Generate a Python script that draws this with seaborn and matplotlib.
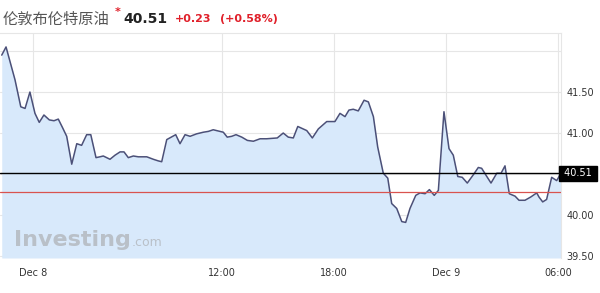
import matplotlib
matplotlib.use("Agg")
import matplotlib.pyplot as plt
import matplotlib.transforms as mtransforms
import seaborn as sns
import pandas as pd

# ---- data (hours since Dec 8 00:00, price) ----
hours = [0.20, 0.43, 0.91, 1.22, 1.45, 1.71, 1.98, 2.21, 2.46, 2.75, 3.00, 3.23, 3.47, 3.68,
         3.95, 4.22, 4.48, 4.75, 4.97, 5.25, 5.46, 5.64, 6.00, 6.27, 6.54, 6.75, 6.98, 7.25,
         7.52, 7.97, 8.32, 8.59, 8.77, 9.04, 9.52, 9.75, 10.02, 10.29, 10.64, 11.00, 11.27,
         11.53, 11.89, 12.07, 12.28, 12.52, 12.75, 13.06, 13.36, 13.68, 14.04, 14.39, 14.96,
         15.28, 15.55, 15.82, 16.06, 16.54, 16.84, 17.16, 17.61, 18.05, 18.32, 18.59, 18.80,
         19.03, 19.30, 19.61, 19.84, 20.11, 20.34, 20.64, 20.88, 21.09, 21.36, 21.63, 21.84,
         22.07, 22.38, 22.61, 22.88, 23.11, 23.37, 23.59, 23.89, 24.16, 24.39, 24.63, 24.87,
         25.14, 25.46, 25.73, 25.91, 26.13, 26.41, 26.72, 26.95, 27.16, 27.39, 27.70, 27.91,
         28.23, 28.54, 28.86, 28.98, 29.18, 29.39, 29.66, 29.93, 30.16]
prices = [41.95, 42.05, 41.65, 41.32, 41.30, 41.50, 41.24, 41.13, 41.22, 41.16, 41.15, 41.17,
          41.06, 40.96, 40.62, 40.87, 40.85, 40.98, 40.98, 40.70, 40.71, 40.72, 40.68, 40.73,
          40.77, 40.77, 40.70, 40.72, 40.71, 40.71, 40.68, 40.66, 40.65, 40.92, 40.98, 40.87,
          40.98, 40.96, 40.99, 41.01, 41.02, 41.04, 41.02, 41.01, 40.95, 40.96, 40.98, 40.95,
          40.91, 40.90, 40.93, 40.93, 40.94, 41.00, 40.95, 40.94, 41.08, 41.03, 40.94, 41.05,
          41.14, 41.14, 41.24, 41.20, 41.28, 41.29, 41.27, 41.40, 41.38, 41.20, 40.83, 40.51,
          40.45, 40.14, 40.08, 39.92, 39.91, 40.08, 40.24, 40.27, 40.26, 40.31, 40.24, 40.30,
          41.26, 40.81, 40.73, 40.47, 40.46, 40.39, 40.49, 40.58, 40.57, 40.49, 40.39, 40.51,
          40.51, 40.60, 40.26, 40.23, 40.18, 40.18, 40.22, 40.27, 40.22, 40.16, 40.19, 40.46,
          40.42, 40.51]
last_price = 40.51
prev_close = 40.28
x_tick_pos = [1.88, 12, 18, 24, 30]
x_tick_labels = ["Dec 8", "12:00", "18:00", "Dec 9", "06:00"]
y_tick_pos = [39.5, 40.0, 40.5, 41.0, 41.5, 42.0]
y_tick_labels = ["39.50", "40.00", "", "41.00", "41.50", ""]
title_name = "伦敦布伦特原油"
title_price = "40.51"
title_change = "+0.23"
title_pct = "(+0.58%)"

df = pd.DataFrame({"h": hours, "p": prices})

sns.set_style("white")
plt.rcParams["font.family"] = ["DejaVu Sans"]

W, H = 600, 293
fig = plt.figure(figsize=(W / 100, H / 100), dpi=100)
ax = fig.add_axes([0, 1 - 258 / H, 561 / W, (258 - 33) / H])

ymin, ymax = 39.476, 42.22
ax.set_xlim(0.107, 30.16)
ax.set_ylim(ymin, ymax)

ax.fill_between(df["h"], df["p"], ymin, color="#d8e9fb", zorder=1, linewidth=0)
sns.lineplot(data=df, x="h", y="p", ax=ax, color="#4b5078", linewidth=1.1, zorder=4)

ax.axhline(last_price, color="black", linewidth=1.0, zorder=5)
ax.axhline(prev_close, color="#d9534f", linewidth=0.9, zorder=5)

ax.set_xticks(x_tick_pos)
ax.set_xticklabels(x_tick_labels)
ax.set_yticks(y_tick_pos)
ax.set_yticklabels(y_tick_labels)
ax.yaxis.tick_right()
ax.tick_params(axis="both", length=0, labelsize=7, colors="#333333")
ax.tick_params(axis="y", pad=4)
ax.tick_params(axis="x", pad=7)
ax.grid(True, color="#e6e6e6", linewidth=0.8, zorder=0)
ax.set_axisbelow(True)
ax.set_xlabel("")
ax.set_ylabel("")
for side in ["left", "bottom"]:
    ax.spines[side].set_visible(False)
for side in ["top", "right"]:
    ax.spines[side].set_visible(True)
    ax.spines[side].set_color("#e6e6e6")
    ax.spines[side].set_linewidth(0.8)

# last price box
trans = mtransforms.blended_transform_factory(ax.transAxes, ax.transData)
ax.text(1.0, last_price, " 40.51 ", transform=trans, ha="left", va="center",
        fontsize=7, color="white", zorder=6, clip_on=False,
        bbox=dict(boxstyle="square,pad=0.25", facecolor="black", edgecolor="black"))

# watermark
ax.text(14 / 561, 1 - (240 - 33) / 225, "Investing", transform=ax.transAxes,
        fontsize=16, fontweight="bold", color="#b4b9bf", alpha=0.85, ha="left",
        va="center", zorder=2)
ax.text(132 / 561, 1 - (243 - 33) / 225, ".com", transform=ax.transAxes,
        fontsize=9, color="#b4b9bf", alpha=0.85, ha="left", va="center", zorder=2)

# title
cjk = ["Noto Sans CJK SC", "DejaVu Sans"]
fig.text(3 / W, 1 - 19 / H, title_name, family=cjk, fontsize=11, color="#555555",
         ha="left", va="center")
fig.text(115 / W, 1 - 12 / H, "*", fontsize=8, color="#e0202a", fontweight="bold",
         ha="left", va="center")
fig.text(123 / W, 1 - 19 / H, title_price, fontsize=10, color="#222222",
         fontweight="bold", ha="left", va="center")
fig.text(175 / W, 1 - 19 / H, title_change, fontsize=8, color="#e0202a",
         fontweight="bold", ha="left", va="center")
fig.text(220 / W, 1 - 19 / H, title_pct, fontsize=8, color="#e0202a",
         fontweight="bold", ha="left", va="center")

fig.savefig("out.png", dpi=100)
